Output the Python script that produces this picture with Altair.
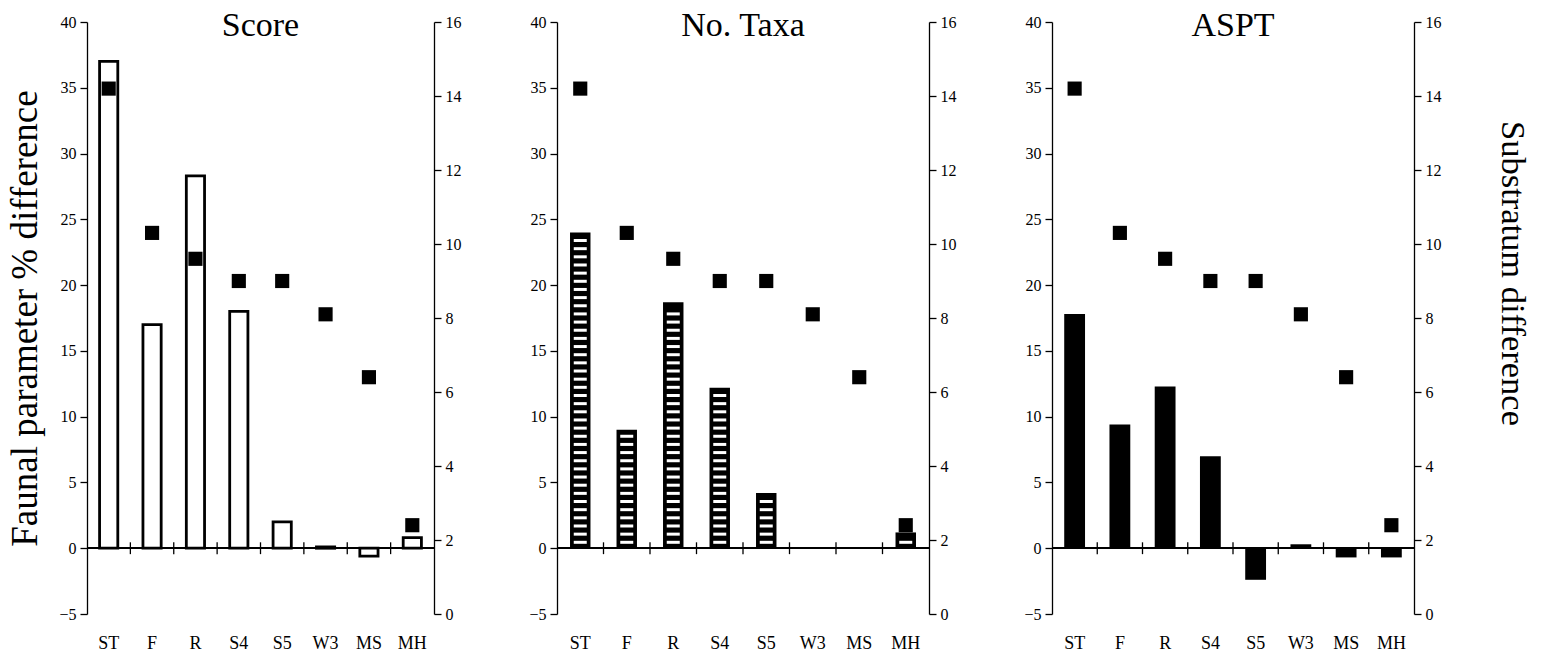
import altair as alt
import pandas as pd

# ---- data ----
sites = ["ST", "F", "R", "S4", "S5", "W3", "MS", "MH"]
score = [37.0, 17.0, 28.3, 18.0, 2.0, 0.1, -0.6, 0.8]
no_taxa = [24.0, 9.0, 18.7, 12.2, 4.2, 0.0, 0.0, 1.2]
aspt = [17.8, 9.4, 12.3, 7.0, -2.4, 0.3, -0.7, -0.7]
substratum = [14.2, 10.3, 9.6, 9.0, 9.0, 8.1, 6.4, 2.4]

left_ticks = list(range(-5, 41, 5))
right_ticks = list(range(0, 17, 2))
panel_titles = ["Score", "No. Taxa", "ASPT"]

FONT = "Liberation Serif"
HEIGHT = 592
PANEL_W = [347, 372, 362]


def panel(title, values, style, width, first, last):
    df = pd.DataFrame({"site": sites, "value": values, "sub": substratum})
    xscale = alt.Scale(domain=sites, paddingInner=0, paddingOuter=0)
    yscale = alt.Scale(domain=[-5, 40], nice=False, zero=False)
    rscale = alt.Scale(domain=[0, 16], nice=False, zero=False)

    xaxis = alt.Axis(title=None, domain=False, ticks=False, labelAngle=0,
                     labelPadding=20, labelFontSize=18, labelFont=FONT,
                     labelColor="black")
    yaxis = alt.Axis(
        values=left_ticks, title="Faunal parameter % difference" if first else None,
        titlePadding=14, titleFontSize=37, labelPadding=4,
    )

    def X(**kw):
        return alt.X("site:N", sort=sites, scale=xscale, axis=xaxis, **kw)

    base = alt.Chart(df)
    if style == "open":
        bars = base.mark_bar(width=alt.RelativeBandSize(0.42), fill="white",
                             stroke="black", strokeWidth=2.8)
    elif style == "striped":
        bars = base.mark_bar(width=alt.RelativeBandSize(0.44), fill="black")
    else:
        bars = base.mark_bar(width=alt.RelativeBandSize(0.46), fill="black")
    bars = bars.encode(x=X(), y=alt.Y("value:Q", scale=yscale, axis=yaxis))

    layers = [bars]

    if style == "striped":
        # horizontal hatch decoration inside the bars
        rows = []
        for s, v in zip(sites, values):
            y = 0.45
            while y < v - 0.35:
                rows.append({"site": s, "value": y})
                y += 0.62
        stripes = alt.Chart(pd.DataFrame(rows)).mark_tick(
            color="white", thickness=3, size=13, opacity=1
        ).encode(x=X(), y=alt.Y("value:Q", scale=yscale, axis=yaxis))
        layers.append(stripes)

    zero = alt.Chart(df).mark_rule(color="black", strokeWidth=1.3).encode(
        y=alt.YDatum(0, scale=yscale, axis=yaxis)
    )
    layers.append(zero)

    tick_df = pd.DataFrame({"site": sites[1:]})
    xticks = alt.Chart(tick_df).mark_rule(color="black", strokeWidth=1.3).encode(
        x=X(bandPosition=0),
        y=alt.YDatum(-0.45, scale=yscale, axis=yaxis),
        y2=alt.Y2Datum(0.45),
    )
    layers.append(xticks)

    # panel heading drawn as text inside the top of the plot area
    head = alt.Chart(pd.DataFrame({"t": [title]})).mark_text(
        font=FONT, fontSize=34, baseline="alphabetic", align="center", color="black"
    ).encode(text="t:N", x=alt.value(width / 2), y=alt.value(14))
    layers.append(head)

    left = alt.layer(*layers)

    points = base.mark_square(size=200, color="black", opacity=1).encode(
        x=X(),
        y=alt.Y(
            "sub:Q", scale=rscale,
            axis=alt.Axis(orient="right", values=right_ticks,
                          title="Substratum difference" if last else None,
                          titleFontSize=34.5, titlePadding=53, titleY=251,
                          labelPadding=4),
        ),
    )

    return (
        alt.layer(left, points)
        .resolve_scale(y="independent")
        .properties(width=width, height=HEIGHT)
    )


p1 = panel(panel_titles[0], score, "open", PANEL_W[0], True, False)
p2 = panel(panel_titles[1], no_taxa, "striped", PANEL_W[1], False, False)
p3 = panel(panel_titles[2], aspt, "solid", PANEL_W[2], False, True)

chart = (
    alt.hconcat(p1, p2, p3, spacing=67)
    .properties(padding={"left": 6, "top": 9, "right": 5, "bottom": 5},
                background="white")
    .configure_view(stroke=None)
    .configure_axis(
        labelFont=FONT, labelFontSize=16, labelColor="black",
        titleFont=FONT, titleFontSize=36, titleFontWeight="normal", titleColor="black",
        domainColor="black", tickColor="black", domainWidth=1.3, tickWidth=1.3,
        tickSize=7, grid=False,
    )
)

chart.save("out.html", embed_options={"renderer": "svg", "actions": False})
